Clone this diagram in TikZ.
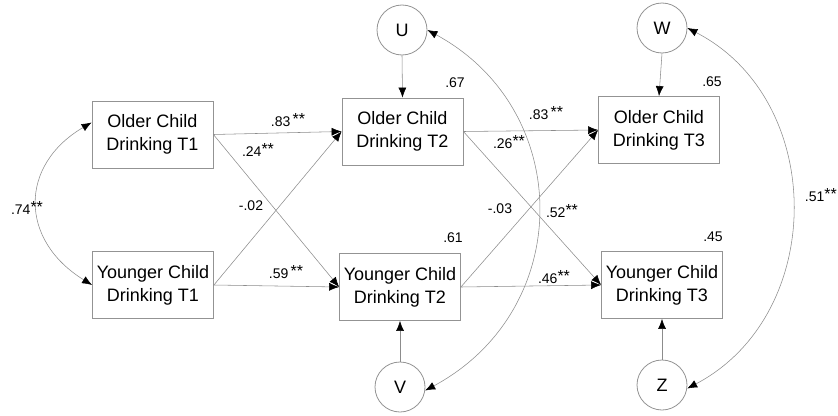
\documentclass[tikz,border=0pt]{standalone}
\usepackage{fontspec}
\setmainfont{Liberation Sans}
\usetikzlibrary{arrows.meta}
\newcommand{\sg}{\raisebox{1.5pt}{\fontsize{16}{16}\selectfont **}}
\tikzset{
  x=1pt, y=-1pt,
  box/.style={draw=gray!85, line width=0.8pt, minimum width=121pt, minimum height=67pt, inner sep=0pt, align=center, font=\fontsize{18}{23}\selectfont},
  err/.style={draw=gray!85, line width=0.8pt, circle, minimum size=50pt, inner sep=0pt, font=\fontsize{18}{22}\selectfont},
  tip/.tip={Latex[length=10pt,width=8pt,color=black]},
  conn/.style={draw=gray!90, line width=0.55pt, -tip},
  dconn/.style={draw=gray!90, line width=0.55pt, tip-tip},
  lbl/.style={font=\fontsize{14}{16}\selectfont, inner sep=0pt}
}
\begin{document}
\begin{tikzpicture}
\useasboundingbox (0,0) rectangle (838,415);
% boxes
\node[box] (o1) at (152.5,134.5) {Older Child\\Drinking T1};
\node[box] (y1) at (153,285) {Younger Child\\Drinking T1};
\node[box] (o2) at (402.5,131.5) {Older Child\\Drinking T2};
\node[box] (y2) at (400,287) {Younger Child\\Drinking T2};
\node[box] (o3) at (659,130) {Older Child\\Drinking T3};
\node[box] (y3) at (662,285) {Younger Child\\Drinking T3};
% error terms
\node[err] (U) at (402,30) {U};
\node[err] (V) at (400,387) {V};
\node[err] (W) at (662,28) {W};
\node[err] (Z) at (662,385) {Z};
% paths
\draw[conn] (o1.east) -- (o2.west);
\draw[conn] (o1.east) -- (y2.west);
\draw[conn] (y1.east) -- (o2.west);
\draw[conn] (y1.east) -- (y2.west);
\draw[conn] (o2.east) -- (o3.west);
\draw[conn] (o2.east) -- (y3.west);
\draw[conn] (y2.east) -- (o3.west);
\draw[conn] (y2.east) -- (y3.west);
\draw[conn] (U.south) -- (o2.north);
\draw[conn] (V.north) -- (y2.south);
\draw[conn] (W.south) -- (o3.north);
\draw[conn] (Z.north) -- (y3.south);
% covariances
\draw[dconn] ([yshift=12pt]o1.west) .. controls (19,165) and (19,240) .. (y1.west);
\draw[dconn] (U.east) .. controls (575,110) and (575,310) .. (V.-8);
\draw[dconn] (W.east) .. controls (827,100) and (827,315) .. (Z.-8);
% labels
\node[lbl] (l74) at (27,208) {.74\sg};
\node[lbl] (l83a) at (288,120) {.83\,\sg};
\node[lbl] (l24) at (258,150) {.24\sg};
\node[lbl] (l02) at (251,206) {-.02};
\node[lbl] (l59) at (286,272) {.59\,\sg};
\node[lbl] (l67) at (455,83) {.67};
\node[lbl] (l83b) at (546,113) {.83\,\sg};
\node[lbl] (l26) at (509,142) {.26\sg};
\node[lbl] (l03) at (500,209) {-.03};
\node[lbl] (l52) at (562,211) {.52\sg};
\node[lbl] (l61) at (453,238) {.61};
\node[lbl] (l46) at (554,277) {.46\sg};
\node[lbl] (l65) at (712,82) {.65};
\node[lbl] (l45) at (713,237) {.45};
\node[lbl, anchor=east] (l51) at (837,195) {.51\sg};
\end{tikzpicture}
\end{document}
